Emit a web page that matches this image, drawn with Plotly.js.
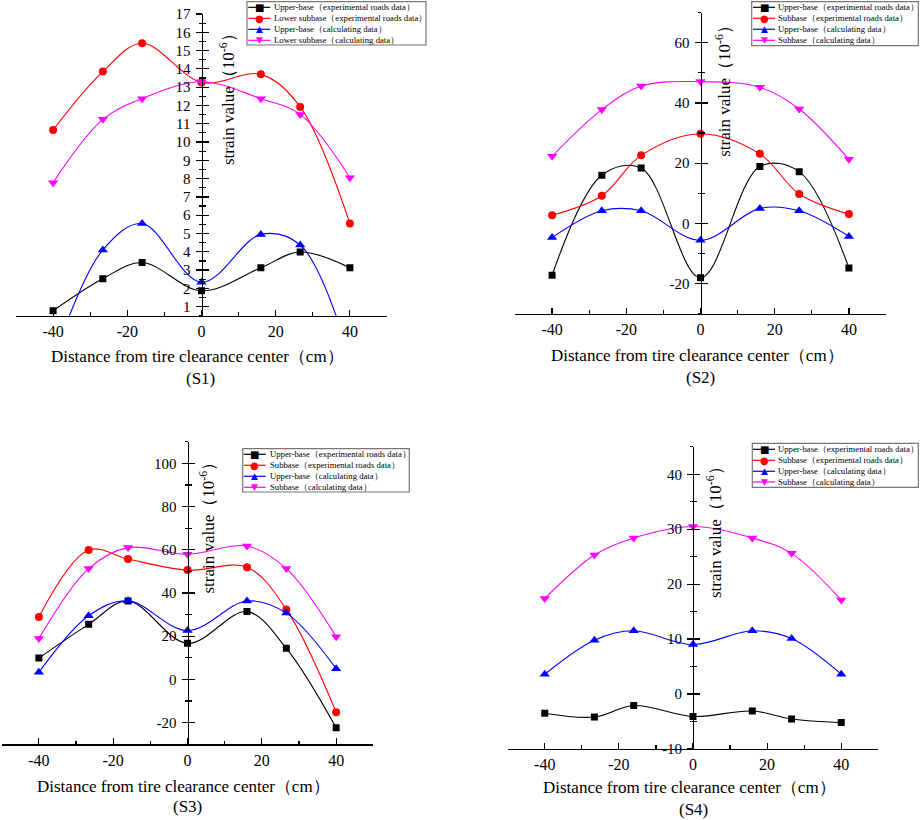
<!DOCTYPE html>
<html><head><meta charset="utf-8">
<script src="https://cdn.plot.ly/plotly-3.0.1.min.js"></script>
<style>body{margin:0;background:#fff}</style>
</head><body><div id="chart" style="width:920px;height:820px"></div>
<script>
// ---------- data ----------
const distance = [-40, -26.6, -16, 0, 16, 26.6, 40];

const s1UpperExp = [0.78, 2.53, 3.41, 1.87, 3.13, 3.99, 3.13];
const s1LowerExp = [10.66, 13.85, 15.40, 13.26, 13.70, 11.92, 5.54];
const s1UpperCalc = [-1.9, 4.10, 5.54, 2.33, 4.95, 4.37, -1.8];
const s1LowerCalc = [7.78, 11.24, 12.37, 13.30, 12.37, 11.51, 8.05];

const s2UpperExp = [-17.2, 16.0, 18.4, -18.0, 18.9, 17.2, -14.8];
const s2SubExp = [2.7, 9.2, 22.6, 29.8, 23.1, 9.8, 3.1];
const s2UpperCalc = [-4.7, 4.2, 4.2, -5.6, 5.0, 4.2, -4.3];
const s2SubCalc = [22.3, 37.8, 45.6, 47.1, 45.2, 38.0, 21.3];

const s3UpperExp = [9.9, 25.5, 36.3, 16.7, 31.4, 14.4, -22.3];
const s3SubExp = [28.9, 59.9, 55.7, 50.6, 51.9, 32.4, -15.2];
const s3UpperCalc = [3.3, 29.5, 36.4, 22.6, 36.3, 30.7, 5.0];
const s3SubCalc = [18.9, 51.3, 61.0, 57.9, 61.7, 51.3, 19.8];

const s4UpperExp = [-3.5, -4.2, -2.1, -4.1, -3.1, -4.55, -5.2];
const s4SubExp = [];
const s4UpperCalc = [3.6, 9.8, 11.5, 9.0, 11.5, 10.1, 3.6];
const s4SubCalc = [17.4, 25.3, 28.4, 30.5, 28.4, 25.6, 17.1];

const xTickVals = [-40, -20, 0, 20, 40];
const xTickText = ['-40', '-20', '0', '20', '40'];
const s1TickVals = [1, 2, 3, 4, 5, 6, 7, 8, 9, 10, 11, 12, 13, 14, 15, 16, 17];
const s1TickText = ['1','2','3','4','5','6','7','8','9','10','11','12','13','14','15','16','17'];
const s2TickVals = [-20, 0, 20, 40, 60];
const s2TickText = ['-20', '0', '20', '40', '60'];
const s3TickVals = [-20, 0, 20, 40, 60, 80, 100];
const s3TickText = ['-20', '0', '20', '40', '60', '80', '100'];
const s4TickVals = [-10, 0, 10, 20, 30, 40];
const s4TickText = ['-10', '0', '10', '20', '30', '40'];

const legendS1 = ['Upper-base（experimental roads data）', 'Lower subbase（experimental roads data）',
                  'Upper-base（calculating data）', 'Lower subbase（calculating data）'];
const legendOther = ['Upper-base（experimental roads data）', 'Subbase（experimental roads data）',
                     'Upper-base（calculating data）', 'Subbase（calculating data）'];
const panelNames = ['(S1)', '(S2)', '(S3)', '(S4)'];
const xTitleText = 'Distance from tire clearance center（cm）';
const yTitleText = 'strain value（10<sup>-6</sup>）';

// ---------- styles & geometry (pixels) ----------
const W = 920, H = 820;
const FONT = 'Liberation Serif';
const styles = [
  {color: '#000000', symbol: 'square', size: 7, glyph: '■', gsize: 10},
  {color: '#ff0000', symbol: 'circle', size: 8, glyph: '●', gsize: 10},
  {color: '#0000ff', symbol: 'triangle-up', size: 9, glyph: '▲', gsize: 9},
  {color: '#ff00ff', symbol: 'triangle-down', size: 9, glyph: '▼', gsize: 9}
];
const panels = [
  {series: [s1UpperExp, s1LowerExp, s1UpperCalc, s1LowerCalc], names: legendS1,
   tv: s1TickVals, tt: s1TickText, minor: 0.5,
   x: [16, 387], y: [14, 315.8], yr: [0.5, 17],
   leg: {box: [247, 1.7, 426, 45], rows: [7.3, 18.3, 29.3, 40.3], sym: 259.3, txt: 271.7},
   yt: [227, 95], xt: [197, 356.7], sub: [200.7, 378.3]},
  {series: [s2UpperExp, s2SubExp, s2UpperCalc, s2SubCalc], names: legendOther,
   tv: s2TickVals, tt: s2TickText, minor: 10,
   x: [515, 886], y: [12.6, 313.8], yr: [-30, 70],
   leg: {box: [751.7, 1.7, 918.3, 45.7], rows: [7.3, 18.3, 29.3, 40.3], sym: 764, txt: 776},
   yt: [723.3, 86.5], xt: [697, 356], sub: [700.5, 377.7]},
  {series: [s3UpperExp, s3SubExp, s3UpperCalc, s3SubCalc], names: legendOther,
   tv: s3TickVals, tt: s3TickText, minor: 10,
   x: [1.7, 373.3], y: [441.7, 744.3], yr: [-30, 110],
   leg: {box: [242.7, 448.7, 409.3, 492], rows: [454.3, 465.3, 476.3, 487.3], sym: 254.7, txt: 267.7},
   yt: [206.7, 523.8], xt: [183.5, 786], sub: [187, 806.7]},
  {series: [s4UpperExp, s4SubExp, s4UpperCalc, s4SubCalc], names: legendOther,
   tv: s4TickVals, tt: s4TickText, minor: 5,
   x: [507.7, 878.3], y: [446.8, 748.9], yr: [-10, 45],
   leg: {box: [752.3, 443.3, 918.3, 487.3], rows: [449.3, 460.3, 471.3, 482], sym: 764, txt: 776},
   yt: [714, 528], xt: [689, 787.7], sub: [693, 809.3]}
];
const px = v => v / W;
const py = v => 1 - v / H;

const traces = [];
const layout = {
  width: W, height: H, margin: {l: 0, r: 0, t: 0, b: 0},
  paper_bgcolor: '#ffffff', plot_bgcolor: 'rgba(0,0,0,0)',
  showlegend: false, font: {family: FONT, color: '#000'},
  annotations: [], shapes: []
};

panels.forEach((p, i) => {
  const n = i + 1;
  const xa = n === 1 ? 'x' : 'x' + n;
  const ya = n === 1 ? 'y' : 'y' + n;
  const yo = 'y' + (n + 4);
  const xDom = [px(p.x[0]), px(p.x[1])];
  const yDom = [py(p.y[1]), py(p.y[0])];
  const pos = (xDom[0] + xDom[1]) / 2;

  layout[n === 1 ? 'xaxis' : 'xaxis' + n] = {
    domain: xDom, anchor: ya, range: [-50, 50], showline: true, linecolor: '#000', linewidth: 1.3,
    showgrid: false, zeroline: false, tickmode: 'array', tickvals: xTickVals, ticktext: xTickText,
    ticks: 'inside', ticklen: 6, tickwidth: 1.2, tickcolor: '#000', ticklabelstandoff: 1,
    tickfont: {family: FONT, size: 16, color: '#000'},
    minor: {tickmode: 'linear', tick0: 0, dtick: 10, ticks: 'inside', ticklen: 3.5, tickwidth: 1.2, tickcolor: '#000'}
  };
  const yCommon = {
    domain: yDom, anchor: 'free', position: pos, range: p.yr,
    showgrid: false, zeroline: false, tickmode: 'array', tickvals: p.tv, ticktext: p.tt,
    ticklen: 6, tickwidth: 1.2, tickcolor: '#000',
    tickfont: {family: FONT, size: 15, color: '#000'}
  };
  layout[n === 1 ? 'yaxis' : 'yaxis' + n] = Object.assign({}, yCommon, {
    showline: true, linecolor: '#000', linewidth: 1.3, ticks: 'outside', ticklabelstandoff: 2,
    minor: {tickmode: 'linear', tick0: 0, dtick: p.minor, ticks: 'outside', ticklen: 3, tickwidth: 1.2, tickcolor: '#000'}
  });
  layout['yaxis' + (n + 4)] = Object.assign({}, yCommon, {
    overlaying: ya, showline: false, ticks: 'inside', showticklabels: false,
    minor: {tickmode: 'linear', tick0: 0, dtick: p.minor, ticks: 'inside', ticklen: 3, tickwidth: 1.2, tickcolor: '#000'}
  });
  traces.push({x: [], y: [], xaxis: xa, yaxis: yo, type: 'scatter', mode: 'markers', showlegend: false, hoverinfo: 'skip'});

  p.series.forEach((vals, s) => {
    const st = styles[s];
    if (vals.length) {
      traces.push({
        x: distance, y: vals, xaxis: xa, yaxis: ya, type: 'scatter', mode: 'lines+markers',
        name: p.names[s], showlegend: false,
        line: {color: st.color, width: 1.1, shape: 'spline', smoothing: 1},
        marker: {symbol: st.symbol, size: st.size, color: st.color, line: {width: 0}}
      });
    }
    // custom legend row
    const ry = p.leg.rows[s];
    layout.shapes.push({type: 'line', xref: 'paper', yref: 'paper',
      x0: px(p.leg.sym - 11), x1: px(p.leg.sym + 11), y0: py(ry), y1: py(ry),
      line: {color: st.color, width: 1.2}});
    layout.annotations.push({xref: 'paper', yref: 'paper', x: px(p.leg.sym), y: py(ry),
      xanchor: 'center', yanchor: 'middle', showarrow: false, text: st.glyph,
      font: {family: 'DejaVu Sans', size: st.gsize, color: st.color}});
    layout.annotations.push({xref: 'paper', yref: 'paper', x: px(p.leg.txt), y: py(ry),
      xanchor: 'left', yanchor: 'middle', showarrow: false, text: p.names[s],
      font: {family: FONT, size: 8.7, color: '#000'}});
  });

  const b = p.leg.box;
  layout.shapes.push({type: 'rect', xref: 'paper', yref: 'paper',
    x0: px(b[0]), x1: px(b[2]), y0: py(b[3]), y1: py(b[1]),
    line: {color: '#777', width: 1.2}, fillcolor: 'rgba(0,0,0,0)'});

  layout.annotations.push({xref: 'paper', yref: 'paper', x: px(p.yt[0]), y: py(p.yt[1]),
    xanchor: 'center', yanchor: 'middle', showarrow: false, textangle: -90, text: yTitleText,
    font: {family: FONT, size: 17, color: '#000'}});
  layout.annotations.push({xref: 'paper', yref: 'paper', x: px(p.xt[0]), y: py(p.xt[1]),
    xanchor: 'center', yanchor: 'middle', showarrow: false, text: xTitleText,
    font: {family: FONT, size: 17, color: '#000'}});
  layout.annotations.push({xref: 'paper', yref: 'paper', x: px(p.sub[0]), y: py(p.sub[1]),
    xanchor: 'center', yanchor: 'middle', showarrow: false, text: panelNames[i],
    font: {family: FONT, size: 17, color: '#000'}});
});

Plotly.newPlot('chart', traces, layout, {staticPlot: true, displayModeBar: false});
</script>
</body></html>
